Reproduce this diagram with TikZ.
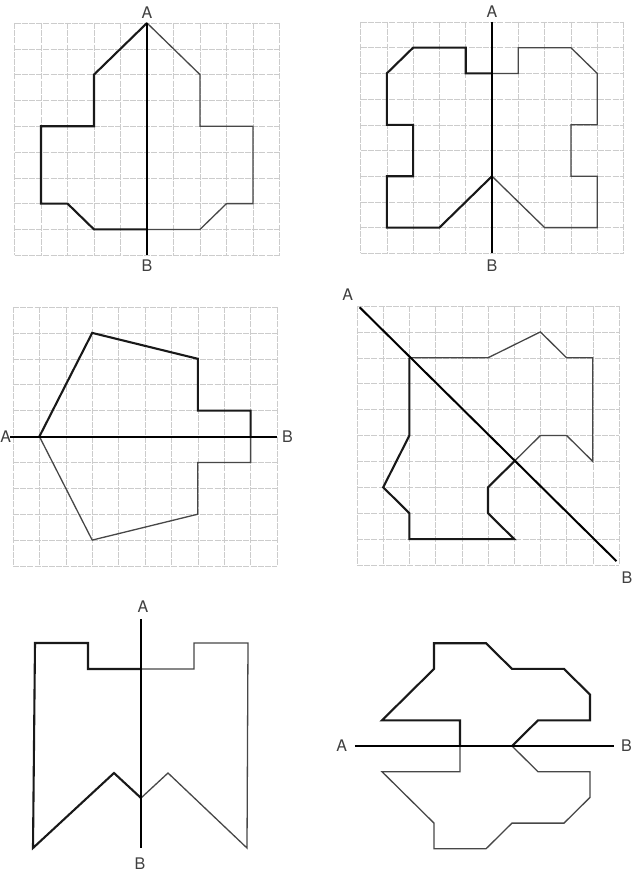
\documentclass[tikz,border=0pt]{standalone}
\usepackage{fontspec}
\setmainfont{TeX Gyre Heros}
\begin{document}
\begin{tikzpicture}[x=1pt,y=-1pt,
  gridline/.style={draw=black!20, line width=0.5pt, dash pattern=on 6pt off 1.2pt},
  thickline/.style={line width=2.1pt, line join=miter, black!90},
  thinline/.style={line width=1.3pt, line join=miter, black!72},
  axisline/.style={line width=2pt, black},
  lbl/.style={font=\fontsize{16}{16}\selectfont, text=black!75, inner sep=0pt}]
\useasboundingbox[fill=white] (0,0) rectangle (640,875);

% ---------- Panel 1 ----------
\begin{scope}[shift={(147pt,-23pt)}, x=26.5pt, y=-25.8pt]
  \foreach \i in {-5,...,5} \draw[gridline] (\i,0) -- (\i,9);
  \foreach \j in {0,...,9} \draw[gridline] (-5,\j) -- (5,\j);
  \draw[thinline] (0,0) -- (2,2) -- (2,4) -- (4,4) -- (4,7) -- (3,7) -- (2,8) -- (0,8);
  \draw[thickline] (0,0) -- (-2,2) -- (-2,4) -- (-4,4) -- (-4,7) -- (-3,7) -- (-2,8) -- (0,8);
  \coordinate (pa1) at (0,0); \coordinate (pb1) at (0,9);
  \draw[axisline] (pa1) -- (pb1);
  \node[lbl] (A1) at (0,-0.4) {A};
  \node[lbl] (B1) at (0,9.4) {B};
\end{scope}

% ---------- Panel 2 ----------
\begin{scope}[shift={(492pt,-22pt)}, x=26.3pt, y=-25.7pt]
  \foreach \i in {-5,...,5} \draw[gridline] (\i,0) -- (\i,9);
  \foreach \j in {0,...,9} \draw[gridline] (-5,\j) -- (5,\j);
  \draw[thinline] (0,2) -- (1,2) -- (1,1) -- (3,1) -- (4,2) -- (4,4) -- (3,4) -- (3,6) -- (4,6) -- (4,8) -- (2,8) -- (0,6);
  \draw[thickline] (0,2) -- (-1,2) -- (-1,1) -- (-3,1) -- (-4,2) -- (-4,4) -- (-3,4) -- (-3,6) -- (-4,6) -- (-4,8) -- (-2,8) -- (0,6);
  \coordinate (pa2) at (0,0); \coordinate (pb2) at (0,9);
  \draw[axisline] (pa2) -- (pb2);
  \node[lbl] (A2) at (0,-0.4) {A};
  \node[lbl] (B2) at (0,9.5) {B};
\end{scope}

% ---------- Panel 3 ----------
\begin{scope}[shift={(13pt,-307pt)}, x=26.4pt, y=-25.9pt]
  \foreach \i in {0,...,10} \draw[gridline] (\i,0) -- (\i,10);
  \foreach \j in {0,...,10} \draw[gridline] (0,\j) -- (10,\j);
  \draw[thinline] (9,5) -- (9,6) -- (7,6) -- (7,8) -- (3,9) -- (1,5);
  \draw[thickline] (1,5) -- (3,1) -- (7,2) -- (7,4) -- (9,4) -- (9,5);
  \coordinate (pa3) at (-0.1,5); \coordinate (pb3) at (10,5);
  \draw[axisline] (pa3) -- (pb3);
  \node[lbl] (A3) at (-0.28,5) {A};
  \node[lbl] (B3) at (10.4,5) {B};
\end{scope}

% ---------- Panel 4 ----------
\begin{scope}[shift={(357pt,-306pt)}, x=26.2pt, y=-25.9pt]
  \foreach \i in {0,...,10} \draw[gridline] (\i,0) -- (\i,10);
  \foreach \j in {0,...,10} \draw[gridline] (0,\j) -- (10,\j);
  \draw[thinline] (2,2) -- (5,2) -- (7,1) -- (8,2) -- (9,2) -- (9,6) -- (8,5) -- (7,5) -- (6,6);
  \draw[thickline] (2,2) -- (2,5) -- (1,7) -- (2,8) -- (2,9) -- (6,9) -- (5,8) -- (5,7) -- (6,6);
  \coordinate (pa4) at (0.1,0.05); \coordinate (pb4) at (9.9,9.85);
  \draw[axisline] (pa4) -- (pb4);
  \node[lbl] (A4) at (-0.35,-0.45) {A};
  \node[lbl] (B4) at (10.3,10.5) {B};
\end{scope}

% ---------- Panel 5 ----------
\begin{scope}
  \draw[thinline] (141,669) -- (194,669) -- (194,643) -- (248,643) -- (247,848) -- (168,773) -- (141,798);
  \draw[thickline] (141,669) -- (88,669) -- (88,643) -- (35,643) -- (33,848) -- (114,773) -- (141,798);
  \coordinate (pa5) at (141,619); \coordinate (pb5) at (141,848);
  \draw[axisline] (pa5) -- (pb5);
  \node[lbl] (A5) at (143,607) {A};
  \node[lbl] (B5) at (140,864) {B};
\end{scope}

% ---------- Panel 6 ----------
\begin{scope}[shift={(382pt,-746pt)}, x=26pt, y=25.7pt]
  \draw[thinline] (3,0) -- (3,-1) -- (0,-1) -- (2,-3) -- (2,-4) -- (4,-4) -- (5,-3) -- (7,-3) -- (8,-2) -- (8,-1) -- (6,-1) -- (5,0);
  \draw[thickline] (3,0) -- (3,1) -- (0,1) -- (2,3) -- (2,4) -- (4,4) -- (5,3) -- (7,3) -- (8,2) -- (8,1) -- (6,1) -- (5,0);
  \coordinate (pa6) at (-1.04,0); \coordinate (pb6) at (8.92,0);
  \draw[axisline] (pa6) -- (pb6);
  \node[lbl] (A6) at (-1.55,0) {A};
  \node[lbl] (B6) at (9.4,0) {B};
\end{scope}
\end{tikzpicture}
\end{document}
